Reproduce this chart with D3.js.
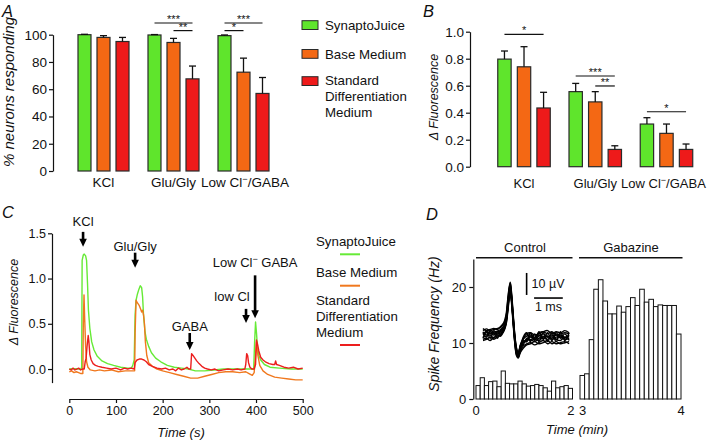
<!DOCTYPE html>
<html><head><meta charset="utf-8">
<script src="https://cdn.jsdelivr.net/npm/d3@7"></script>
<style>
html,body{margin:0;padding:0;background:#fff;}
svg text{font-family:'Liberation Sans',Arial,Helvetica,sans-serif;fill:#111;white-space:pre;}
</style></head><body>
<svg id="fig" width="708" height="441"></svg>
<script>
// ---------------- DATA ----------------
const categories = ["KCl", "Glu/Gly", "Low Cl⁻/GABA"];
const seriesNames = ["SynaptoJuice", "Base Medium", "Standard Differentiation Medium"];
const seriesColors = ["#5fe52c", "#f46814", "#ee1a1a"];
const traceColors = ["#66ea36", "#f0781e", "#ec1e1e"];

// Panel A: % neurons responding (mean, sem) per category
const pctSynapto = [100, 99.8, 99.3];
const pctSynaptoErr = [0.3, 0.3, 0.5];
const pctBase = [98, 94.3, 72.5];
const pctBaseErr = [1.3, 3.0, 10.3];
const pctStandard = [95, 67.6, 56.9];
const pctStandardErr = [3.0, 9.4, 11.7];
const pctTicks = [0, 20, 40, 60, 80, 100];
const sigA = [
  {cat: "Glu/Gly", from: 0, to: 2, level: 108.6, label: "***"},
  {cat: "Glu/Gly", from: 1, to: 2, level: 103, label: "**"},
  {cat: "Low Cl⁻/GABA", from: 0, to: 2, level: 108.6, label: "***"},
  {cat: "Low Cl⁻/GABA", from: 0, to: 1, level: 103, label: "*"}
];

// Panel B: delta fluorescence (mean, sem)
const dfSynapto = [0.797, 0.556, 0.316];
const dfSynaptoErr = [0.060, 0.061, 0.047];
const dfBase = [0.740, 0.480, 0.247];
const dfBaseErr = [0.149, 0.076, 0.069];
const dfStandard = [0.435, 0.128, 0.128];
const dfStandardErr = [0.116, 0.027, 0.040];
const dfTicks = [0, 0.2, 0.4, 0.6, 0.8, 1.0];
const sigB = [
  {cat: "KCl", from: 0, to: 2, level: 0.98, label: "*"},
  {cat: "Glu/Gly", from: 0, to: 2, level: 0.672, label: "***"},
  {cat: "Glu/Gly", from: 1, to: 2, level: 0.598, label: "**"},
  {cat: "Low Cl⁻/GABA", from: 0, to: 2, level: 0.407, label: "*"}
];

// Panel C: traces [time s, dF]
const traceSynapto = [[0,0],[10,0.005],[20,0],[25,0],[26.5,0.02],[27.5,1.2],[30,1.26],[32,1.27],[35,1.25],[37,1.2],[39,0.95],[41,0.65],[44,0.45],[48,0.3],[53,0.21],[60,0.14],[70,0.09],[82,0.06],[95,0.04],[110,0.02],[125,0.01],[133,0.01],[136,0.04],[139,0.1],[141,0.6],[143,0.76],[146,0.83],[149,0.88],[152,0.92],[155,0.9],[157,0.8],[159,0.6],[162,0.42],[165,0.33],[170,0.25],[176,0.18],[185,0.12],[196,0.08],[210,0.04],[225,0.02],[240,0.01],[255,0.0],[270,-0.02],[290,-0.02],[310,-0.01],[330,0],[350,0.0],[370,0],[385,0],[395,0.0],[397,0.3],[399,0.52],[401,0.4],[403,0.25],[406,0.15],[410,0.1],[418,0.05],[430,0.02],[450,0.01],[475,0.0],[500,0]];
const traceBase = [[0,-0.03],[5,-0.02],[10,-0.04],[15,-0.03],[20,-0.04],[25,-0.05],[29,-0.05],[30,0.5],[31.5,0.82],[33,0.55],[35,0.25],[37,0.08],[40,0.02],[45,-0.01],[55,-0.02],[65,-0.01],[75,-0.02],[90,-0.01],[105,-0.03],[120,-0.02],[135,-0.02],[140,-0.02],[141,0.4],[143,0.76],[146,0.73],[150,0.7],[153,0.66],[155,0.63],[157,0.65],[159,0.6],[161,0.5],[163,0.3],[166,0.15],[170,0.07],[178,0.03],[188,0.0],[200,-0.02],[215,-0.04],[230,-0.06],[245,-0.08],[260,-0.1],[275,-0.1],[290,-0.08],[305,-0.06],[320,-0.04],[335,-0.03],[350,-0.03],[365,-0.04],[378,-0.03],[385,-0.05],[392,-0.07],[396,-0.04],[399,0.15],[401,0.3],[404,0.15],[408,0.04],[415,-0.02],[425,-0.06],[440,-0.09],[455,-0.1],[470,-0.11],[485,-0.12],[500,-0.12]];
const traceStandard = [[0,0.0],[4,-0.01],[8,0.01],[12,-0.01],[16,0.0],[20,0.01],[24,-0.01],[28,0.0],[32,0.0],[34,0.08],[36,0.12],[38,0.25],[40.5,0.37],[42,0.3],[44,0.16],[47,0.1],[51,0.06],[56,0.04],[62,0.03],[70,0.02],[80,0.01],[90,0.0],[100,0.01],[110,-0.01],[118,0.01],[125,0.0],[132,0.01],[139,0.0],[141,0.07],[145,0.1],[150,0.11],[155,0.11],[160,0.1],[165,0.08],[170,0.05],[178,0.03],[188,0.01],[198,0.0],[206,0.01],[214,-0.01],[222,0.0],[228,-0.02],[234,0.01],[240,-0.01],[246,0.0],[252,0.02],[256,0.0],[260,0.0],[262,0.17],[265,0.15],[269,0.12],[273,0.09],[278,0.06],[284,0.03],[290,0.01],[296,0.0],[304,-0.01],[312,0.0],[320,-0.02],[330,-0.01],[340,0.0],[350,-0.01],[360,0.0],[368,-0.01],[376,0.0],[378,0.05],[380,0.17],[382,0.15],[384,0.07],[387,0.02],[391,0.0],[396,0.0],[399,0.05],[401,0.32],[403,0.28],[406,0.2],[410,0.13],[415,0.1],[420,0.08],[428,0.06],[436,0.05],[440,0.05],[442,0.09],[444,0.05],[450,0.04],[460,0.02],[470,0.01],[480,0.02],[490,0.0],[500,0.01]];
const timeTicksC = [0, 100, 200, 300, 400, 500];
const dfTicksC = [0, 0.5, 1.0, 1.5];
const eventLabels = ["KCl", "Glu/Gly", "GABA", "low Cl", "Low Cl⁻ GABA"];
const eventTimes = [29.5, 141, 258, 378.6, 398];
const eventArrowTip = [1.35, 1.12, 0.21, 0.51, 0.56];

// Panel D: spike frequency histograms (Hz)
const controlRate = [2.4,3.8,2.4,3.1,3.2,2.2,5.0,2.8,2.7,2.7,3.2,2.7,2.3,2.4,2.6,2.4,2.0,1.4,3.2,2.0,2.2,2.4,1.9];
const gabazineRate = [4.2,4.5,10.6,19.6,21.3,17.5,15.2,15.2,16.6,15.5,16.5,18.1,16.7,19.6,17.3,17.8,16.5,16.8,16.7,16.7,16.7,11.6];
const rateTicks = [0, 10, 20];
// spike waveform overlay (ms, µV)
const waveTimes = [0,0.12,0.25,0.38,0.5,0.62,0.72,0.8,0.86,0.91,0.95,0.99,1.05,1.11,1.17,1.23,1.3,1.4,1.52,1.65,1.8,1.95,2.1,2.25,2.4,2.55,2.7,2.85,3.0];
const waveTraces = [
  [0,1,0.5,1.2,1.8,2.5,4,7,13,19,22,18,8,-2,-8,-9.5,-6,-3.5,-2.5,-2,-3,-1.5,-0.5,-2,-0.8,-2,-2.5,-1,-1.5],
  [2,2.8,2,2.5,3,3.5,5,8,15,21,23.5,19,9,-1,-7,-8.5,-5,-2,-0.5,0,-1,1,1.5,0.5,1.5,0,0.5,1,0.5],
  [-2,-1.5,-2.5,-1,-0.5,0.5,2,5,11,17,20,16,6,-3,-9,-10,-7.5,-5,-4,-3.5,-4.5,-3.5,-2.5,-4,-3,-4,-3.5,-3,-4],
  [1,0,1.5,0.5,1,2,3.5,6.5,13,19.5,22.5,17,7.5,-2.5,-8.5,-9,-6.5,-3,-3,-1,-1.5,0,-1.5,-0.5,-1.5,0,-1,-1.5,0],
  [-1,-0.5,0,-1.5,0.5,1,2.5,6,12,18,21,17.5,7,-1.5,-7.5,-9.5,-5.5,-4.5,-1.5,-2.5,-2,-2.5,-1,-0.5,-2,-1,-0.5,-2,-1.5],
  [3,2,2.5,3,2.5,4,5.5,9,16,21.5,24,20,10,0,-6,-8,-4.5,-1.5,0.5,1,0,0.5,1.5,2,0.5,1.5,1,2,1],
  [-2.5,-2,-1,-2,-1,0,1.5,4.5,10,16,19,15,5,-4,-9.5,-10.5,-8,-6,-4.5,-4,-3,-4,-3.5,-2.5,-4,-3,-4,-3.5,-3],
  [0.5,1.5,1,0,1.5,1.5,3,6,12.5,18.5,21.5,17,7,-2,-7,-9,-6,-3.5,-2,-0.5,-2,-0.5,0.5,-1,0,-2,0,-1,-0.5],
  [1.5,-1,2,1,-1.5,2.5,3,7.5,14,20,23,18.5,8.5,-0.5,-6.5,-9,-5,-2.5,-3,1,-2.5,1.5,-2,1,-2.5,1,-1.5,0.5,-2.5],
  [-1.5,2,-1.5,2,0,-0.5,2,5.5,11.5,17.5,20.5,16.5,6.5,-3.5,-8,-10,-7,-1,1,-3,0.5,-3,1,-3,1,-3,1.5,-2.5,1]
];

// ---------------- DRAW ----------------
const svg = d3.select("#fig");

function richText(sel, str, supSize) {
  const parts = str.split("⁻");
  parts.forEach((p, i) => {
    if (i > 0) {
      sel.append("tspan").attr("dy", -5).attr("font-size", supSize).text("−");
      sel.append("tspan").attr("dy", 5).text(p);
    } else {
      sel.append("tspan").text(p);
    }
  });
  return sel;
}

function styleAxis(g, fs) {
  g.attr("font-family", null).attr("font-size", null);
  g.selectAll("text").attr("font-size", fs).attr("fill", "#111");
  g.selectAll("line").attr("stroke", "#111").attr("stroke-width", 1.2);
  g.selectAll("path").attr("stroke", "#111").attr("stroke-width", 1.2);
}

function panelLetter(t, x, y) {
  svg.append("text").attr("x", x).attr("y", y).attr("font-size", 16.5).attr("font-style", "italic").text(t);
}

function yLabel(t, x, y, fs) {
  svg.append("text").attr("transform", `translate(${x},${y}) rotate(-90)`)
    .attr("text-anchor", "middle").attr("font-size", fs).attr("font-style", "italic").text(t);
}

function drawBars(cfg) {
  const g = svg.append("g");
  const x0 = d3.scaleBand().domain(categories).range(cfg.xRange);
  const x1 = d3.scaleBand().domain(seriesNames).range([-cfg.inner / 2, cfg.inner / 2]).paddingInner(0.316);
  const y = cfg.y;
  const cx = c => x0(c) + x0.bandwidth() / 2;
  const barCx = (c, si) => cx(c) + x1(seriesNames[si]) + x1.bandwidth() / 2;
  cfg.values.forEach((vals, si) => {
    const errs = cfg.errors[si];
    const d = categories.map((c, i) => ({c, v: vals[i], e: errs[i]}));
    g.selectAll(null).data(d).enter().append("rect")
      .attr("x", k => cx(k.c) + x1(seriesNames[si]))
      .attr("y", k => y(k.v))
      .attr("width", x1.bandwidth())
      .attr("height", k => y(0) - y(k.v))
      .attr("fill", seriesColors[si]).attr("stroke", "#2a2a2a").attr("stroke-width", 1.2);
    g.selectAll(null).data(d).enter().append("line")
      .attr("x1", k => barCx(k.c, si)).attr("x2", k => barCx(k.c, si))
      .attr("y1", k => y(k.v)).attr("y2", k => y(k.v + k.e))
      .attr("stroke", "#111").attr("stroke-width", 1.3);
    g.selectAll(null).data(d).enter().append("line")
      .attr("x1", k => barCx(k.c, si) - 3.5).attr("x2", k => barCx(k.c, si) + 3.5)
      .attr("y1", k => y(k.v + k.e)).attr("y2", k => y(k.v + k.e))
      .attr("stroke", "#111").attr("stroke-width", 1.3);
  });
  const ax = g.append("g").attr("transform", `translate(${cfg.axisX},0)`)
    .call(d3.axisLeft(y).tickValues(cfg.ticks).tickFormat(cfg.fmt).tickSize(4).tickSizeOuter(0).tickPadding(2));
  styleAxis(ax, 13.5);
  categories.forEach((c, i) => {
    richText(g.append("text").attr("x", cx(c) + cfg.catDx[i]).attr("y", cfg.catY).attr("text-anchor", "middle").attr("font-size", cfg.catFs), c, 9);
  });
  cfg.sig.forEach(s => {
    const xa = barCx(s.cat, s.from), xb = barCx(s.cat, s.to), yy = y(s.level);
    g.append("line").attr("x1", xa).attr("x2", xb).attr("y1", yy).attr("y2", yy)
      .attr("stroke", "#111").attr("stroke-width", 1.2);
    g.append("text").attr("x", (xa + xb) / 2).attr("y", yy).attr("text-anchor", "middle")
      .attr("font-size", 11).text(s.label);
  });
}

// ---- Panel A ----
panelLetter("A", 2, 17);
yLabel("% neurons responding", 14, 92, 15);
drawBars({
  xRange: [68.5, 278.5], inner: 51,
  y: d3.scaleLinear().domain([0, 100]).range([171, 34.7]),
  values: [pctSynapto, pctBase, pctStandard],
  errors: [pctSynaptoErr, pctBaseErr, pctStandardErr],
  axisX: 53, ticks: pctTicks, fmt: d3.format("d"), catY: 187, catFs: 13.5, catDx: [0, 0, 1.5], sig: sigA
});
const legA = svg.append("g");
const legABoxY = [20.7, 49.5, 76.7];
seriesNames.forEach((n, i) => {
  legA.append("rect").attr("x", 302).attr("y", legABoxY[i]).attr("width", 16).attr("height", 8.8)
    .attr("fill", seriesColors[i]).attr("stroke", "#2a2a2a").attr("stroke-width", 1);
});
[["SynaptoJuice", 29.5], ["Base Medium", 59], ["Standard", 85], ["Differentiation", 101], ["Medium", 117]]
  .forEach(([t, yy]) => legA.append("text").attr("x", 325).attr("y", yy).attr("font-size", 13.3).text(t));

// ---- Panel B ----
panelLetter("B", 423, 17);
yLabel("Δ Fluorescence", 438, 97, 12.5);
drawBars({
  xRange: [488.4, 702.1], inner: 52.5,
  y: d3.scaleLinear().domain([0, 1]).range([166.7, 31.7]),
  values: [dfSynapto, dfBase, dfStandard],
  errors: [dfSynaptoErr, dfBaseErr, dfStandardErr],
  axisX: 470, ticks: dfTicks, fmt: d3.format(".1f"), catY: 188, catFs: 13, catDx: [0, 0, -3], sig: sigB
});

// ---- Panel C ----
panelLetter("C", 2, 218);
yLabel("Δ Fluorescence", 18, 302, 12.5);
const xC = d3.scaleLinear().domain([0, 500]).range([69.3, 302.7]);
const yC = d3.scaleLinear().domain([-0.15, 1.5]).range([382.6, 233.3]);
const axCY = svg.append("g").attr("transform", "translate(52,0)")
  .call(d3.axisLeft(yC).tickValues(dfTicksC).tickFormat(d3.format(".1f")).tickSize(4).tickSizeOuter(0).tickPadding(2));
styleAxis(axCY, 12.5);
const axCX = svg.append("g").attr("transform", "translate(0,399)")
  .call(d3.axisBottom(xC).tickValues(timeTicksC).tickFormat(d3.format("d")).tickSize(4).tickSizeOuter(0).tickPadding(3));
styleAxis(axCX, 12.5);
svg.append("text").attr("x", 181).attr("y", 436.5).attr("text-anchor", "middle")
  .attr("font-size", 13).attr("font-style", "italic").text("Time (s)");
const lineC = d3.line().x(d => xC(d[0])).y(d => yC(d[1]));
[traceSynapto, traceBase, traceStandard].forEach((tr, i) => {
  svg.append("path").attr("d", lineC(tr)).attr("fill", "none")
    .attr("stroke", traceColors[i]).attr("stroke-width", 1.4).attr("stroke-linejoin", "round");
});
const arrowLen = [15, 15, 17, 14, 43];
const labelDx = [0, 0, 0, -14, 0];
const labelGap = [5.7, 2, 2, 8, 8];
eventTimes.forEach((t, i) => {
  const x = xC(t), tip = yC(eventArrowTip[i]), top = tip - arrowLen[i];
  const head = 8, hw = 3.8;
  svg.append("line").attr("x1", x).attr("x2", x).attr("y1", top).attr("y2", tip - head + 1)
    .attr("stroke", "#000").attr("stroke-width", 2.6);
  svg.append("path").attr("d", `M${x - hw},${tip - head} L${x + hw},${tip - head} L${x},${tip} Z`).attr("fill", "#000");
  richText(svg.append("text").attr("x", x + labelDx[i]).attr("y", top - labelGap[i])
    .attr("text-anchor", "middle").attr("font-size", 13), eventLabels[i], 9);
});
const legC = svg.append("g");
[["SynaptoJuice", 246], ["Base Medium", 277], ["Standard", 305], ["Differentiation", 321], ["Medium", 337]]
  .forEach(([t, yy]) => legC.append("text").attr("x", 316).attr("y", yy).attr("font-size", 13.3).text(t));
[254.3, 285.7, 345].forEach((yy, i) => legC.append("line").attr("x1", 340).attr("x2", 360)
  .attr("y1", yy).attr("y2", yy).attr("stroke", traceColors[i]).attr("stroke-width", 2));

// ---- Panel D ----
panelLetter("D", 426, 220);
yLabel("Spike Frequency (Hz)", 438.5, 324, 14);
const yD = d3.scaleLinear().domain([0, 25]).range([399, 259]);
const xCtl = d3.scaleLinear().domain([0, 2]).range([476, 572.5]);
const xGab = d3.scaleLinear().domain([3, 4]).range([580, 681]);
const axD = svg.append("g").attr("transform", "translate(473.3,0)")
  .call(d3.axisLeft(yD).tickValues(rateTicks).tickFormat(d3.format("d")).tickSize(4).tickSizeOuter(0).tickPadding(3));
styleAxis(axD, 13);
const wCtl = 2 / controlRate.length, wGab = 1 / gabazineRate.length;
svg.append("g").selectAll("rect").data(controlRate).enter().append("rect")
  .attr("x", (d, i) => xCtl(i * wCtl)).attr("width", (d, i) => xCtl((i + 1) * wCtl) - xCtl(i * wCtl))
  .attr("y", d => yD(d)).attr("height", d => yD(0) - yD(d))
  .attr("fill", "#fff").attr("stroke", "#111").attr("stroke-width", 1);
svg.append("g").selectAll("rect").data(gabazineRate).enter().append("rect")
  .attr("x", (d, i) => xGab(3 + i * wGab)).attr("width", (d, i) => xGab(3 + (i + 1) * wGab) - xGab(3 + i * wGab))
  .attr("y", d => yD(d)).attr("height", d => yD(0) - yD(d))
  .attr("fill", "#fff").attr("stroke", "#111").attr("stroke-width", 1);
[[xCtl(0), "0", "middle"], [xCtl(2) + 2, "2", "end"], [xGab(3) - 1, "3", "start"], [xGab(4), "4", "middle"]].forEach(([x, t, a]) =>
  svg.append("text").attr("x", x).attr("y", 414.5).attr("text-anchor", a).attr("font-size", 13).text(t));
svg.append("text").attr("x", 577).attr("y", 434).attr("text-anchor", "middle")
  .attr("font-size", 13).attr("font-style", "italic").text("Time (min)");
svg.append("line").attr("x1", xCtl(0)).attr("x2", xCtl(2)).attr("y1", 257.7).attr("y2", 257.7).attr("stroke", "#111").attr("stroke-width", 1.5);
svg.append("line").attr("x1", xGab(3) - 1).attr("x2", xGab(4) + 1.5).attr("y1", 257.7).attr("y2", 257.7).attr("stroke", "#111").attr("stroke-width", 1.5);
svg.append("text").attr("x", 525).attr("y", 252).attr("text-anchor", "middle").attr("font-size", 13).text("Control");
svg.append("text").attr("x", 631).attr("y", 252).attr("text-anchor", "middle").attr("font-size", 13).text("Gabazine");
const tMs = d3.scaleLinear().domain([0, 3]).range([483, 569.1]);
const uV = d3.scaleLinear().domain([0, 10]).range([335, 313]);
const waveLine = d3.line().x((d, i) => tMs(waveTimes[i])).y(d => uV(d)).curve(d3.curveCatmullRom);
waveTraces.forEach(tr => svg.append("path").attr("d", waveLine(tr)).attr("fill", "none")
  .attr("stroke", "#000").attr("stroke-width", 1.4));
svg.append("line").attr("x1", tMs(1.52)).attr("x2", tMs(1.52)).attr("y1", uV(18.2)).attr("y2", uV(28.2)).attr("stroke", "#000").attr("stroke-width", 1.6);
svg.append("line").attr("x1", tMs(1.78)).attr("x2", tMs(2.78)).attr("y1", uV(16.8)).attr("y2", uV(16.8)).attr("stroke", "#000").attr("stroke-width", 1.6);
svg.append("text").attr("x", tMs(1.52) + 5).attr("y", 288).attr("font-size", 12.5).text("10 µV");
svg.append("text").attr("x", (tMs(1.78) + tMs(2.78)) / 2).attr("y", 311).attr("text-anchor", "middle").attr("font-size", 12.5).text("1 ms");
</script>
</body></html>
